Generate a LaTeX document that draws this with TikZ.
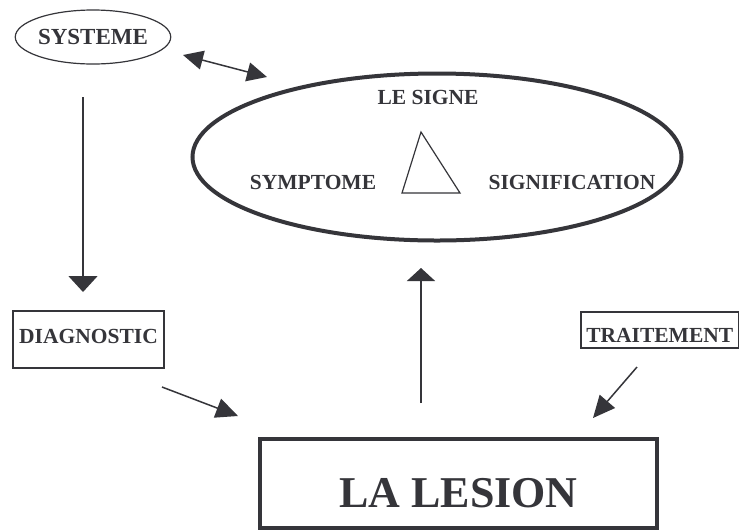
\documentclass[tikz,border=0pt]{standalone}
\usepackage{fontspec}
\setmainfont{Liberation Serif}
\usepackage{xcolor}
\usepackage{tikz}
\usetikzlibrary{arrows.meta,shapes.geometric}
\definecolor{InkGray}{HTML}{35353A}
\definecolor{PaperBg}{HTML}{FFFFFF}

\begin{document}
\begin{tikzpicture}[x=1pt,y=-1pt,
        lbl/.style={text=InkGray, font=\fontsize{21.5}{25}\selectfont\bfseries, inner sep=0pt},
        flowarrow/.style={draw=InkGray, line width=1.5pt, -{Triangle[length=22pt,width=20pt]}}]
        \useasboundingbox (0,0) rectangle (739,531);
        \fill[PaperBg] (0,0) rectangle (739,531);

        % the sign: big ellipse with the triangle
        \node[ellipse, draw=InkGray, line width=4pt, minimum width=489pt, minimum height=167pt] (signe) at (437,157) {};
        \node[lbl, anchor=base] (lesigne) at (428,104) {LE SIGNE};
        \node[lbl, anchor=base] (symptome) at (313,189) {SYMPTOME};
        \node[lbl, anchor=base] (signif) at (572,189) {SIGNIFICATION};
        \draw[InkGray, line width=1.2pt, line join=miter] (421,132) -- (402,193) -- (460,193) -- cycle;

        % the boxes round it
        \node[lbl, font=\fontsize{23}{27}\selectfont\bfseries, ellipse, draw=InkGray, line width=1.2pt, minimum width=152pt, minimum height=54pt] (systeme) at (93,37) {SYSTEME};
        \node[lbl, draw=InkGray, line width=2pt, anchor=north west, minimum width=151pt, text height=32pt, text depth=25pt] (diag) at (12,310) {DIAGNOSTIC};
        \node[lbl, draw=InkGray, line width=1.5pt, anchor=north west, minimum width=158pt, text height=31pt, text depth=5pt] (trait) at (580,311) {TRAITEMENT};
        \node[lbl, font=\fontsize{44}{50}\selectfont\bfseries, draw=InkGray, line width=4pt, anchor=north west, minimum width=397pt, text height=68pt, text depth=21pt] (lesion) at (258,437) {LA LESION};

        % arrow ends
        \coordinate (sysout) at (83,97);
        \coordinate (diagin) at (83,292);
        \coordinate (pairA) at (183,55);
        \coordinate (pairB) at (267,77);
        \coordinate (diagout) at (162,387);
        \coordinate (lesionA) at (238,416);
        \coordinate (lesionout) at (421,403);
        \coordinate (signein) at (421,268);
        \coordinate (traitout) at (637,367);
        \coordinate (lesionB) at (593,418);

        \draw[flowarrow, -{Triangle[length=16pt,width=29pt]}] (sysout) -- (diagin);
        \draw[flowarrow, {Triangle[length=20pt,width=19pt]}-{Triangle[length=20pt,width=19pt]}] (pairA) -- (pairB);
        \draw[flowarrow] (diagout) -- (lesionA);
        \draw[flowarrow, -{Triangle[length=13pt,width=28pt]}] (lesionout) -- (signein);
        \draw[flowarrow] (traitout) -- (lesionB);
    \end{tikzpicture}
\end{document}
